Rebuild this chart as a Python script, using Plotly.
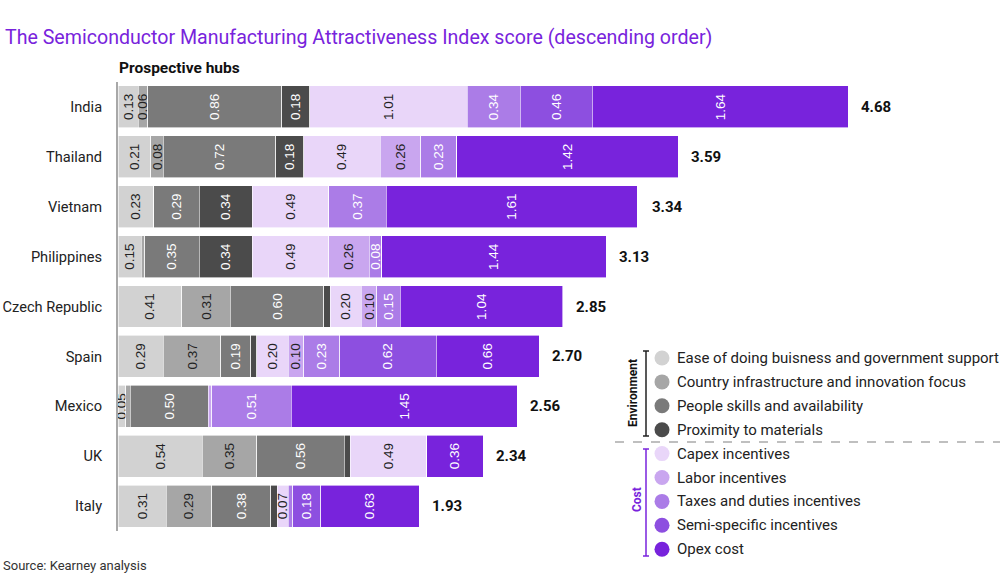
import plotly.graph_objects as go

countries = ["India", "Thailand", "Vietnam", "Philippines", "Czech Republic",
             "Spain", "Mexico", "UK", "Italy"]
ease = [0.13, 0.21, 0.23, 0.15, 0.41, 0.29, 0.05, 0.54, 0.31]
infra = [0.06, 0.08, 0.00, 0.02, 0.31, 0.37, 0.03, 0.35, 0.29]
people = [0.86, 0.72, 0.29, 0.35, 0.60, 0.19, 0.50, 0.56, 0.38]
proximity = [0.18, 0.18, 0.34, 0.34, 0.04, 0.04, 0.00, 0.04, 0.04]
capex = [1.01, 0.49, 0.49, 0.49, 0.20, 0.20, 0.00, 0.49, 0.07]
labor = [0.00, 0.26, 0.00, 0.26, 0.10, 0.10, 0.02, 0.00, 0.00]
taxes = [0.34, 0.23, 0.37, 0.08, 0.15, 0.23, 0.51, 0.00, 0.03]
semi = [0.46, 0.00, 0.00, 0.00, 0.00, 0.62, 0.00, 0.00, 0.18]
opex = [1.64, 1.42, 1.61, 1.44, 1.04, 0.66, 1.45, 0.36, 0.63]
totals = [4.68, 3.59, 3.34, 3.13, 2.85, 2.70, 2.56, 2.34, 1.93]

series_names = ["Ease of doing buisness and government support",
                "Country infrastructure and innovation focus",
                "People skills and availability",
                "Proximity to materials",
                "Capex incentives",
                "Labor incentives",
                "Taxes and duties incentives",
                "Semi-specific incentives",
                "Opex cost"]
series_values = [ease, infra, people, proximity, capex, labor, taxes, semi, opex]
colors = ["#d2d2d2", "#a6a6a6", "#7a7a7a", "#4b4b4b",
          "#e9d6f9", "#c9a6ef", "#ab7ce7", "#8d4fe0", "#7823dc"]
text_colors = ["#222222", "#222222", "#ffffff", "#ffffff",
               "#222222", "#222222", "#ffffff", "#ffffff", "#ffffff"]

FONT = "Roboto"
W, H = 1000, 574
ML, MR, MT, MB = 118, 24, 82, 43
PW, PH = W - ML - MR, H - MT - MB


def px(p):
    return (p - ML) / PW


def py(p):
    return (H - MB - p) / PH


fig = go.Figure()
for name, vals, col, tcol in zip(series_names, series_values, colors, text_colors):
    fig.add_trace(go.Bar(
        y=countries, x=vals, orientation="h", name=name,
        marker=dict(color=col, line=dict(color="white", width=0.6)),
        text=[f"{v:.2f}" if v >= 0.05 else "" for v in vals],
        textposition="inside", insidetextanchor="middle", textangle=-90,
        textfont=dict(family="Liberation Sans", size=13.5, color=tcol),
        showlegend=False, hoverinfo="skip",
    ))

annotations = []
for c, t in zip(countries, totals):
    annotations.append(dict(x=t, y=c, xref="x", yref="y", text=f"<b>{t:.2f}</b>",
                            showarrow=False, xanchor="left", xshift=11,
                            font=dict(family=FONT, size=15, color="#111111")))

# Title, subtitle, source
annotations.append(dict(x=px(3), y=py(38), xref="paper", yref="paper", xanchor="left",
                        yanchor="middle", showarrow=False,
                        text="The Semiconductor Manufacturing Attractiveness Index score (descending order)",
                        font=dict(family=FONT, size=19.6, color="#7823dc")))
annotations.append(dict(x=px(117), y=py(68), xref="paper", yref="paper", xanchor="left",
                        yanchor="middle", showarrow=False, text="<b>Prospective hubs</b>",
                        font=dict(family=FONT, size=15.5, color="#111111")))
annotations.append(dict(x=px(1), y=py(565), xref="paper", yref="paper", xanchor="left",
                        yanchor="middle", showarrow=False, text="Source: Kearney analysis",
                        font=dict(family=FONT, size=13, color="#333333")))

shapes = []
# Custom legend
leg_y0, leg_dy = 358, 23.9
for i, (name, col) in enumerate(zip(series_names, colors)):
    yy = leg_y0 + leg_dy * i
    shapes.append(dict(type="circle", xref="paper", yref="paper", xsizemode="pixel",
                       ysizemode="pixel", xanchor=px(662), yanchor=py(yy),
                       x0=-7.5, x1=7.5, y0=-7.5, y1=7.5, fillcolor=col, line=dict(width=0)))
    annotations.append(dict(x=px(675), y=py(yy), xref="paper", yref="paper", xanchor="left",
                            yanchor="middle", showarrow=False, text=name,
                            font=dict(family=FONT, size=15, color="#222222")))

# brackets
def bracket(y0, y1, col):
    out = [dict(type="line", xref="paper", yref="paper", x0=px(646), x1=px(646),
                y0=py(y0), y1=py(y1), line=dict(color=col, width=1.5))]
    for yy in (y0, y1):
        out.append(dict(type="line", xref="paper", yref="paper", x0=px(643), x1=px(649),
                        y0=py(yy), y1=py(yy), line=dict(color=col, width=1.5)))
    return out

shapes += bracket(351, 436, "#222222")
shapes += bracket(449, 556, "#7823dc")
shapes.append(dict(type="line", xref="paper", yref="paper", x0=px(615), x1=px(1000),
                   y0=py(442), y1=py(442), line=dict(color="#aaaaaa", width=1.5, dash="dash")))
annotations.append(dict(x=px(633), y=py(393), xref="paper", yref="paper", xanchor="center",
                        yanchor="middle", showarrow=False, text="<b>Environment</b>",
                        textangle=-90, font=dict(family=FONT, size=12, color="#111111")))
annotations.append(dict(x=px(637), y=py(500), xref="paper", yref="paper", xanchor="center",
                        yanchor="middle", showarrow=False, text="<b>Cost</b>",
                        textangle=-90, font=dict(family=FONT, size=12, color="#7823dc")))

fig.update_layout(
    width=W, height=H, barmode="stack", bargap=0.16,
    margin=dict(l=ML, r=MR, t=MT, b=MB, autoexpand=False),
    paper_bgcolor="white", plot_bgcolor="white",
    uniformtext=dict(minsize=13.5, mode="show"),
    xaxis=dict(range=[0, PW / 156.0], visible=False, fixedrange=True, automargin=False),
    yaxis=dict(autorange="reversed", showline=True, linecolor="#a8a8a8", linewidth=2,
               ticks="", ticklabelstandoff=11, showgrid=False, automargin=False,
               tickfont=dict(family=FONT, size=14.6, color="#222222")),
    annotations=annotations, shapes=shapes,
    font=dict(family=FONT),
)

fig.write_html("out.html")
